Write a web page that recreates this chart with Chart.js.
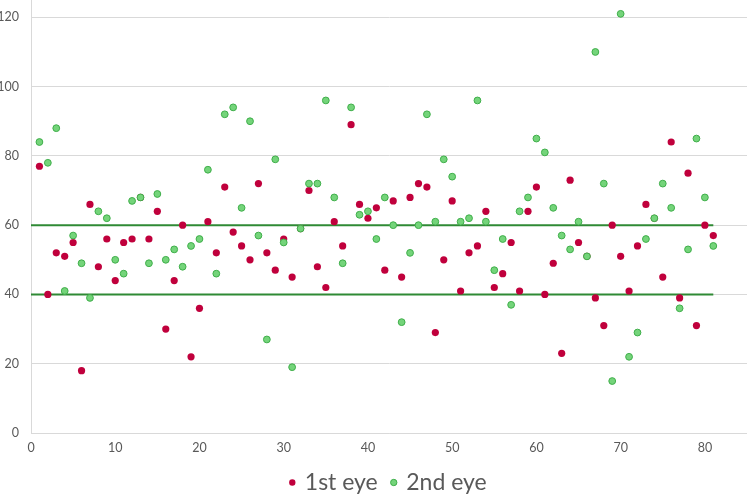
<!DOCTYPE html>
<html>
<head>
<meta charset="utf-8">
<script src="https://cdn.jsdelivr.net/npm/chart.js@4.4.1/dist/chart.umd.min.js"></script>
<style>
  html, body { margin: 0; padding: 0; background: #fff; }
  #wrap { width: 747px; height: 495px; }
</style>
</head>
<body>
<div id="wrap"><canvas id="eyeChart"></canvas></div>
<script>
// patient number 1..81
const patients = Array.from({ length: 81 }, (_, i) => i + 1);

// values
const firstEye = [
  77, 40, 52, 51, 55, 18, 66, 48, 56, 44,
  55, 56, 68, 56, 64, 30, 44, 60, 22, 36,
  61, 52, 71, 58, 54, 50, 72, 52, 47, 56,
  45, 59, 70, 48, 42, 61, 54, 89, 66, 62,
  65, 47, 67, 45, 68, 72, 71, 29, 50, 67,
  41, 52, 54, 64, 42, 46, 55, 41, 64, 71,
  40, 49, 23, 73, 55, 51, 39, 31, 60, 51,
  41, 54, 66, 62, 45, 84, 39, 75, 31, 60,
  57
];
const secondEye = [
  84, 78, 88, 41, 57, 49, 39, 64, 62, 50,
  46, 67, 68, 49, 69, 50, 53, 48, 54, 56,
  76, 46, 92, 94, 65, 90, 57, 27, 79, 55,
  19, 59, 72, 72, 96, 68, 49, 94, 63, 64,
  56, 68, 60, 32, 52, 60, 92, 61, 79, 74,
  61, 62, 96, 61, 47, 56, 37, 64, 68, 85,
  81, 65, 57, 53, 61, 51, 110, 72, 15, 121,
  22, 29, 56, 62, 72, 65, 36, 53, 85, 68,
  54
];

// reference limits
const lowerLimit = 40;
const upperLimit = 60;
const limitStart = 0;
const limitEnd = 81;

const yTicks = [0, 20, 40, 60, 80, 100, 120];
const xTicks = [0, 10, 20, 30, 40, 50, 60, 70, 80];

function toPoints(values) {
  return values.map((v, i) => ({ x: patients[i], y: v }));
}

const textColor = '#595959';
const gridColor = '#d9d9d9';

// fixed legend height so the plot keeps its size
const legendHeight = {
  id: 'legendHeight',
  beforeInit(chart) {
    const origFit = chart.legend.fit;
    chart.legend.fit = function() {
      origFit.bind(chart.legend)();
      this.height = 39;
    };
  }
};

const ctx = document.getElementById('eyeChart').getContext('2d');
new Chart(ctx, {
  type: 'scatter',
  data: {
    datasets: [
      {
        label: '1st eye',
        data: toPoints(firstEye),
        backgroundColor: '#c0003c',
        borderColor: '#c0003c',
        borderWidth: 0,
        pointRadius: 3.6,
        pointHoverRadius: 3.6,
        order: 3
      },
      {
        label: '2nd eye',
        data: toPoints(secondEye),
        backgroundColor: '#74d47a',
        borderColor: '#3fae4a',
        borderWidth: 1,
        pointRadius: 3.4,
        pointHoverRadius: 3.4,
        order: 2
      },
      {
        label: 'lower',
        type: 'line',
        data: [{ x: limitStart, y: lowerLimit }, { x: limitEnd, y: lowerLimit }],
        borderColor: '#2f8a35',
        borderWidth: 2,
        pointRadius: 0,
        order: 4
      },
      {
        label: 'upper',
        type: 'line',
        data: [{ x: limitStart, y: upperLimit }, { x: limitEnd, y: upperLimit }],
        borderColor: '#2f8a35',
        borderWidth: 2,
        pointRadius: 0,
        order: 4
      }
    ]
  },
  options: {
    responsive: true,
    maintainAspectRatio: false,
    animation: false,
    layout: { autoPadding: false, padding: 0 },
    scales: {
      x: {
        type: 'linear',
        min: 0,
        max: 85,
        border: { color: gridColor, width: 1 },
        grid: { display: false, drawTicks: false },
        afterBuildTicks: function(scale) {
          scale.ticks = xTicks.map(v => ({ value: v }));
        },
        afterFit: function(scale) {
          scale.height = 23;
          scale.paddingLeft = 0;
          scale.paddingRight = 0;
        },
        ticks: {
          color: textColor,
          font: { family: 'Lato', size: 12.5 },
          padding: 7,
          maxRotation: 0
        }
      },
      y: {
        min: 0,
        max: 125,
        border: { color: gridColor, width: 1 },
        grid: { color: gridColor, lineWidth: 1, drawTicks: false },
        afterBuildTicks: function(scale) {
          scale.ticks = yTicks.map(v => ({ value: v }));
        },
        afterFit: function(scale) {
          scale.width = 31;
          scale.paddingTop = 0;
          scale.paddingBottom = 0;
        },
        ticks: {
          color: textColor,
          font: { family: 'Lato', size: 12.5 },
          padding: 12
        }
      }
    },
    plugins: {
      tooltip: { enabled: false },
      legend: {
        position: 'bottom',
        fullSize: false,
        labels: {
          color: textColor,
          font: { family: 'Lato', size: 23 },
          usePointStyle: true,
          pointStyle: 'circle',
          boxWidth: 2,
          boxHeight: 4.5,
          padding: 15,
          sort: (a, b) => a.datasetIndex - b.datasetIndex,
          filter: item => item.text === '1st eye' || item.text === '2nd eye'
        }
      }
    }
  },
  plugins: [legendHeight]
});
</script>
</body>
</html>
